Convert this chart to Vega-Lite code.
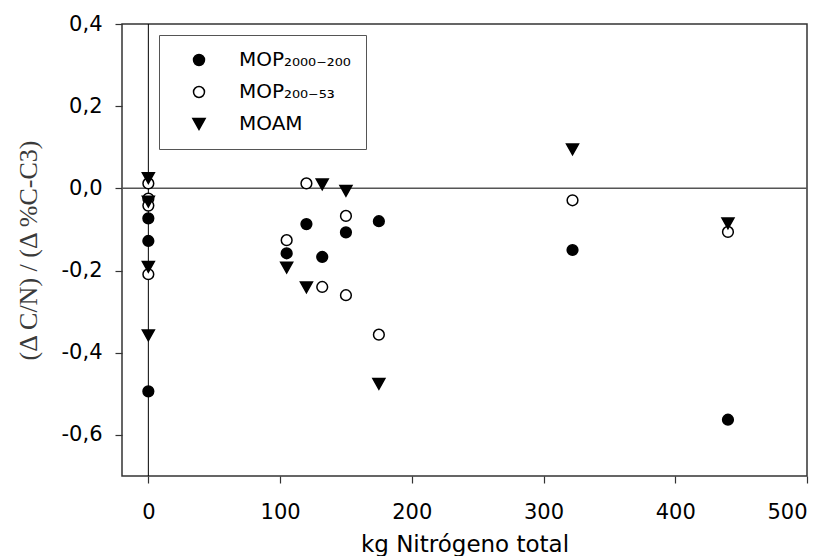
{
  "$schema": "https://vega.github.io/schema/vega-lite/v6.json",
  "width": 685,
  "height": 452,
  "autosize": "none",
  "padding": {"left": 122, "top": 24, "right": 25, "bottom": 80},
  "background": "white",
  "config": {
    "view": {"stroke": "#333333", "strokeWidth": 1.5},
    "font": "DejaVu Sans",
    "axis": {
      "grid": false,
      "domain": false,
      "ticks": true,
      "tickSize": 7,
      "tickColor": "#333333",
      "tickWidth": 1.2,
      "labelFont": "DejaVu Sans",
      "labelFontSize": 21,
      "labelColor": "#000000",
      "titleFontWeight": "normal"
    }
  },
  "datasets": {
    "pts": [
      {"grupo": "MOP₂₀₀₀₋₂₀₀", "N": 0, "r": -0.073},
      {"grupo": "MOP₂₀₀₀₋₂₀₀", "N": 0, "r": -0.128},
      {"grupo": "MOP₂₀₀₀₋₂₀₀", "N": 0, "r": -0.494},
      {"grupo": "MOP₂₀₀₀₋₂₀₀", "N": 105, "r": -0.158},
      {"grupo": "MOP₂₀₀₀₋₂₀₀", "N": 120, "r": -0.087},
      {"grupo": "MOP₂₀₀₀₋₂₀₀", "N": 132, "r": -0.167},
      {"grupo": "MOP₂₀₀₀₋₂₀₀", "N": 150, "r": -0.107},
      {"grupo": "MOP₂₀₀₀₋₂₀₀", "N": 175, "r": -0.08},
      {"grupo": "MOP₂₀₀₀₋₂₀₀", "N": 322, "r": -0.15},
      {"grupo": "MOP₂₀₀₀₋₂₀₀", "N": 440, "r": -0.563},
      {"grupo": "MOP₂₀₀₋₅₃", "N": 0, "r": 0.012},
      {"grupo": "MOP₂₀₀₋₅₃", "N": 0, "r": -0.025},
      {"grupo": "MOP₂₀₀₋₅₃", "N": 0, "r": -0.042},
      {"grupo": "MOP₂₀₀₋₅₃", "N": 0, "r": -0.209},
      {"grupo": "MOP₂₀₀₋₅₃", "N": 105, "r": -0.126},
      {"grupo": "MOP₂₀₀₋₅₃", "N": 120, "r": 0.012},
      {"grupo": "MOP₂₀₀₋₅₃", "N": 132, "r": -0.24},
      {"grupo": "MOP₂₀₀₋₅₃", "N": 150, "r": -0.067},
      {"grupo": "MOP₂₀₀₋₅₃", "N": 150, "r": -0.26},
      {"grupo": "MOP₂₀₀₋₅₃", "N": 175, "r": -0.356},
      {"grupo": "MOP₂₀₀₋₅₃", "N": 322, "r": -0.029},
      {"grupo": "MOP₂₀₀₋₅₃", "N": 440, "r": -0.106},
      {"grupo": "MOAM", "N": 0, "r": 0.025},
      {"grupo": "MOAM", "N": 0, "r": -0.032},
      {"grupo": "MOAM", "N": 0, "r": -0.191},
      {"grupo": "MOAM", "N": 0, "r": -0.358},
      {"grupo": "MOAM", "N": 105, "r": -0.193},
      {"grupo": "MOAM", "N": 120, "r": -0.241},
      {"grupo": "MOAM", "N": 132, "r": 0.01},
      {"grupo": "MOAM", "N": 150, "r": -0.006},
      {"grupo": "MOAM", "N": 175, "r": -0.476},
      {"grupo": "MOAM", "N": 322, "r": 0.095},
      {"grupo": "MOAM", "N": 440, "r": -0.085}
    ],
    "ref": [{"v": 0}]
  },
  "layer": [
    {
      "data": {"name": "ref"},
      "mark": {"type": "rule", "color": "#555555", "strokeWidth": 1.5},
      "encoding": {
        "y": {"field": "v", "type": "quantitative", "scale": {"domain": [-0.7, 0.4], "nice": false, "zero": false}}
      }
    },
    {
      "data": {"name": "ref"},
      "mark": {"type": "rule", "color": "#000000", "strokeWidth": 1},
      "encoding": {
        "x": {"field": "v", "type": "quantitative", "scale": {"domain": [-20, 500], "nice": false, "zero": false}}
      }
    },
    {
      "data": {"name": "pts"},
      "mark": {"type": "point", "filled": true, "stroke": "#000000", "strokeWidth": 1.5, "opacity": 1, "size": 115},
      "encoding": {
        "x": {
          "field": "N", "type": "quantitative",
          "scale": {"domain": [-20, 500], "nice": false, "zero": false},
          "axis": {
            "values": [0, 100, 200, 300, 400, 500],
            "labelPadding": 18,
            "title": "kg Nitrógeno total",
            "titleFont": "DejaVu Sans",
            "titleFontSize": 23,
            "titleColor": "#000000",
            "titleBaseline": "alphabetic",
            "titleY": 75
          }
        },
        "y": {
          "field": "r", "type": "quantitative",
          "scale": {"domain": [-0.7, 0.4], "nice": false, "zero": false},
          "axis": {
            "values": [-0.6, -0.4, -0.2, 0, 0.2, 0.4],
            "labelPadding": 13,
            "labelExpr": "replace(replace(format(datum.value, '.1f'), '.', ','), '−', '-')",
            "title": "(Δ C/N) / (Δ %C-C3)",
            "titleFont": "Liberation Serif",
            "titleFontSize": 26,
            "titleColor": "#3a3a3a",
            "titleAngle": 270,
            "titleBaseline": "middle",
            "titleAlign": "center",
            "titleX": -94,
            "titleY": 226
          }
        },
        "shape": {
          "field": "grupo", "type": "nominal",
          "scale": {"domain": ["MOP₂₀₀₀₋₂₀₀", "MOP₂₀₀₋₅₃", "MOAM"], "range": ["circle", "circle", "M-1.12,-1L1.12,-1L0,1Z"]},
          "legend": {
            "title": null,
            "orient": "none",
            "legendX": 37,
            "legendY": 11,
            "padding": 15,
            "strokeColor": "#555555",
            "fillColor": "white",
            "symbolSize": 120,
            "symbolOffset": 15,
            "labelOffset": 30,
            "labelFont": "DejaVu Sans",
            "labelFontSize": 20,
            "labelColor": "#000000",
            "labelLimit": 400,
            "labelExpr": "datum.label + '\u00a0\u00a0\u00a0\u00a0\u00a0'",
            "rowPadding": 12,
            "encode": {
              "symbols": {"update": {"stroke": {"value": "#000000"}, "strokeWidth": {"value": 1.5}}}
            }
          }
        },
        "fill": {
          "field": "grupo", "type": "nominal",
          "scale": {"domain": ["MOP₂₀₀₀₋₂₀₀", "MOP₂₀₀₋₅₃", "MOAM"], "range": ["#000000", "#ffffff", "#000000"]},
          "legend": {
            "title": null,
            "orient": "none",
            "legendX": 37,
            "legendY": 11,
            "padding": 15,
            "strokeColor": "#555555",
            "fillColor": "white",
            "symbolSize": 120,
            "symbolOffset": 15,
            "labelOffset": 30,
            "labelFont": "DejaVu Sans",
            "labelFontSize": 20,
            "labelColor": "#000000",
            "labelLimit": 400,
            "labelExpr": "datum.label + '\u00a0\u00a0\u00a0\u00a0\u00a0'",
            "rowPadding": 12,
            "encode": {
              "symbols": {"update": {"stroke": {"value": "#000000"}, "strokeWidth": {"value": 1.5}}}
            }
          }
        }
      }
    }
  ]
}
